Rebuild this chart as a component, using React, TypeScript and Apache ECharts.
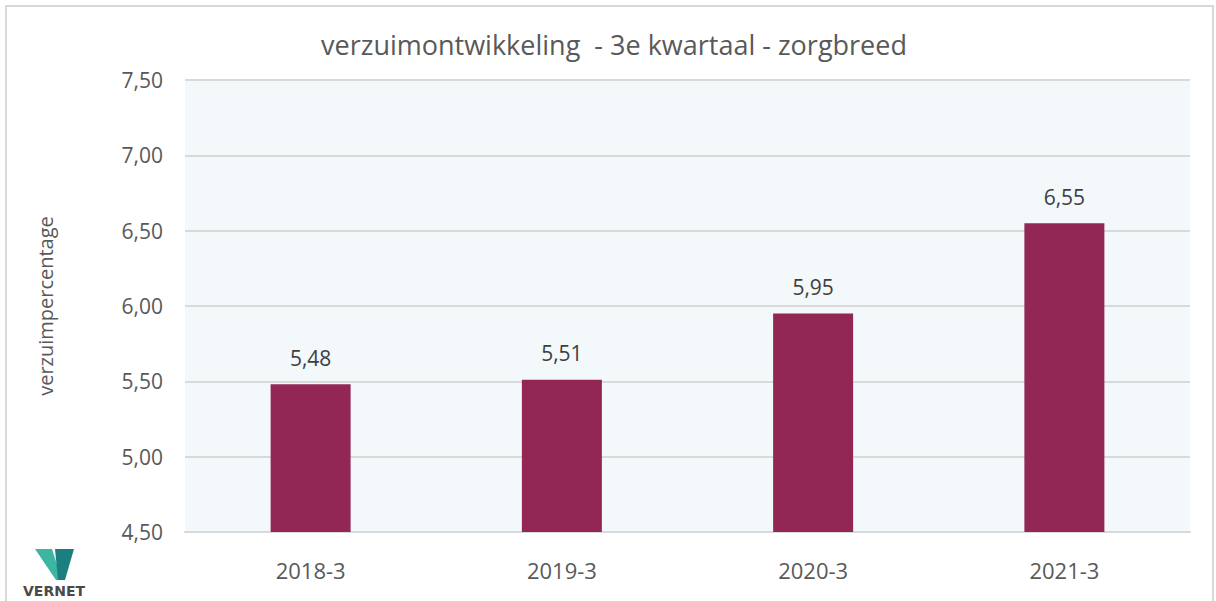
import React, { useEffect, useRef } from "react";
import * as echarts from "echarts";

const categories = ["2018-3", "2019-3", "2020-3", "2021-3"];
const values = [5.48, 5.51, 5.95, 6.55];
const titleText = "verzuimontwikkeling  - 3e kwartaal - zorgbreed";
const yAxisName = "verzuimpercentage";
const yMin = 4.5;
const yMax = 7.5;
const yStep = 0.5;

const fmt = (v: number) => v.toFixed(2).replace(".", ",");

export default function App() {
  const ref = useRef<HTMLDivElement>(null);
  useEffect(() => {
    if (!ref.current) return;
    const chart = echarts.init(ref.current, undefined, { renderer: "svg" });
    const font = "'Open Sans', 'Noto Sans', sans-serif";
    chart.setOption({
      animation: false,
      backgroundColor: "#ffffff",
      textStyle: { fontFamily: font },
      title: {
        text: titleText,
        left: 609,
        textAlign: "center",
        top: 26,
        textStyle: { fontSize: 27, fontWeight: "normal", color: "#595959", fontFamily: font },
      },
      grid: {
        left: 185,
        right: 26,
        top: 80,
        bottom: 69,
        show: true,
        backgroundColor: "#F3F8FB",
        borderWidth: 0,
      },
      xAxis: {
        type: "category",
        data: categories,
        axisLine: { show: true, lineStyle: { color: "#D9D9D9", width: 2 } },
        axisTick: { show: false },
        axisLabel: { fontSize: 22, color: "#595959", margin: 27, fontFamily: font },
      },
      yAxis: {
        type: "value",
        min: yMin,
        max: yMax,
        interval: yStep,
        name: yAxisName,
        nameLocation: "middle",
        nameGap: 130,
        nameRotate: 90,
        nameTextStyle: { fontSize: 20, color: "#595959", fontFamily: font },
        axisLine: { show: false },
        axisTick: { show: false },
        axisLabel: { fontSize: 21, color: "#595959", margin: 22, formatter: (v: number) => fmt(v), fontFamily: font },
        splitLine: { lineStyle: { color: "#D9D9D9", width: 2 } },
      },
      series: [
        {
          type: "bar",
          data: values,
          barWidth: 80,
          itemStyle: { color: "#922756" },
          label: {
            show: true,
            position: "top",
            distance: 16,
            fontSize: 21,
            color: "#404040",
            fontFamily: font,
            formatter: (p: any) => fmt(p.value),
          },
        },
      ],
      graphic: [
        {
          type: "rect",
          shape: { x: 6, y: 6, width: 1207, height: 600 },
          style: { fill: "none", stroke: "#D9D9D9", lineWidth: 2 },
          silent: true,
        },
        {
          type: "polygon",
          shape: { points: [[35, 549], [52, 549], [62, 580], [56, 580]] },
          style: { fill: "#3DB5A2" },
        },
        {
          type: "polygon",
          shape: { points: [[55, 549], [74, 549], [65, 580], [58, 580]] },
          style: { fill: "#1B7F80" },
        },
        {
          type: "text",
          x: 54,
          y: 591,
          style: {
            text: "VERNET",
            fill: "#4a4a4a",
            font: "bold 14px 'DejaVu Sans', sans-serif",
            align: "center",
            verticalAlign: "middle",
          },
        },
      ],
    });
    return () => chart.dispose();
  }, []);
  return (
    <div
      ref={ref}
      style={{ position: "fixed", left: 0, top: 0, width: 1216, height: 601 }}
    />
  );
}
